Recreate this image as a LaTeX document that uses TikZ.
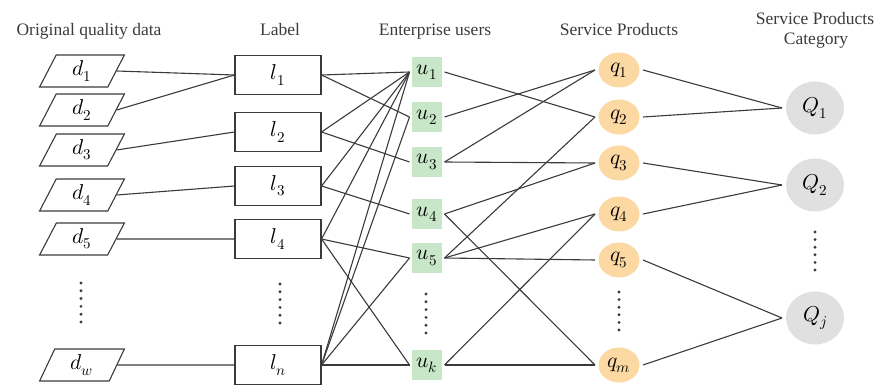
\documentclass[tikz,border=0pt]{standalone}
\usepackage{fontspec}
\usepackage{unicode-math}
\setmainfont{Liberation Serif}
\setmathfont{Latin Modern Math}
\usetikzlibrary{shapes.geometric}
\definecolor{ugreen}{RGB}{200,230,200}
\definecolor{qorange}{RGB}{252,217,162}
\definecolor{qgray}{RGB}{224,224,224}
\definecolor{linec}{RGB}{58,58,58}
\definecolor{textc}{RGB}{60,60,60}
\tikzset{
  hdr/.style={text=textc, font=\fontsize{17.5}{20}\selectfont, align=center},
  lab/.style={font=\fontsize{21.5}{24}\selectfont},
  dbox/.style={lab, draw=linec, line width=1.1pt, trapezium, trapezium left angle=73, trapezium right angle=107, trapezium stretches=true, minimum width=85pt, minimum height=32pt, inner sep=0pt},
  lbox/.style={lab, draw=linec, line width=1.1pt, rectangle, minimum width=86pt, minimum height=39pt, inner sep=0pt},
  ubox/.style={lab, fill=ugreen, rectangle, minimum width=30pt, minimum height=30pt, inner sep=0pt, outer sep=2.5pt},
  qbox/.style={lab, fill=qorange, ellipse, minimum width=41pt, minimum height=35pt, inner sep=0pt, outer sep=3.5pt},
  Qbox/.style={lab, fill=qgray, ellipse, minimum width=58pt, minimum height=53pt, inner sep=0pt, outer sep=4pt},
  conn/.style={draw=linec, line width=1.1pt},
  dotc/.style={fill=linec}
}
\begin{document}
\begin{tikzpicture}[x=1pt,y=-1pt]
\useasboundingbox (0,0) rectangle (876,387);
% headers
\node[hdr, anchor=base] (h1) at (89,36) {Original quality data};
\node[hdr, anchor=base] (h2) at (280,36) {Label};
\node[hdr, anchor=base] (h3) at (435,36) {Enterprise users};
\node[hdr, anchor=base] (h4) at (619,36) {Service Products};
\node[hdr, anchor=base] (h5) at (815,25) {Service Products};
\node[hdr, anchor=base] (h6) at (816,45) {Category};
% d
\node[dbox] (d1) at (82,71) {$d_1$};
\node[dbox] (d2) at (82,110) {$d_2$};
\node[dbox] (d3) at (82,150) {$d_3$};
\node[dbox] (d4) at (82,195) {$d_4$};
\node[dbox] (d5) at (82,239) {$d_5$};
\node[dbox] (dw) at (82,365) {$d_w$};
% l
\node[lbox] (l1) at (278,75) {$l_1$};
\node[lbox] (l2) at (278,132) {$l_2$};
\node[lbox] (l3) at (278,186) {$l_3$};
\node[lbox] (l4) at (278,239) {$l_4$};
\node[lbox] (ln) at (278,365) {$l_n$};
% u
\node[ubox] (u1) at (427,72) {$u_1$};
\node[ubox] (u2) at (427,117) {$u_2$};
\node[ubox] (u3) at (427,162) {$u_3$};
\node[ubox] (u4) at (427,214) {$u_4$};
\node[ubox] (u5) at (427,258) {$u_5$};
\node[ubox] (uk) at (427,365) {$u_k$};
% q
\node[qbox] (q1) at (619,70) {$q_1$};
\node[qbox] (q2) at (619,117) {$q_2$};
\node[qbox] (q3) at (619,163) {$q_3$};
\node[qbox] (q4) at (619,214) {$q_4$};
\node[qbox] (q5) at (619,260) {$q_5$};
\node[qbox] (qm) at (619,365) {$q_m$};
% Q
\node[Qbox] (Q1) at (815,108) {$Q_1$};
\node[Qbox] (Q2) at (815,185) {$Q_2$};
\node[Qbox] (Qj) at (815,318) {$Q_j$};
% dots
\foreach \x/\ya/\yb in {81/283/322, 280/284/323, 426/294/333, 619/292/330, 815/232/270}{
  \foreach \i in {0,...,5}{
    \fill[dotc] (\x,{\ya+\i*(\yb-\ya)/5}) circle (1.6pt);
  }
}
% d -> l
\draw[conn] (d1.east) -- (l1.west);
\draw[conn] (d2.east) -- (l1.west);
\draw[conn] (d3.east) -- (l2.west);
\draw[conn] (d4.east) -- (l3.west);
\draw[conn] (d5.east) -- (l4.west);
\draw[conn] (dw.east) -- (ln.west);
% l -> u
\draw[conn] (l1.east) -- (u1.west);
\draw[conn] (l1.east) -- (u2.west);
\draw[conn] (l2.east) -- (u1.west);
\draw[conn] (l2.east) -- (u3.west);
\draw[conn] (l3.east) -- (u1.west);
\draw[conn] (l3.east) -- (u4.west);
\draw[conn] (l4.east) -- (u1.west);
\draw[conn] (l4.east) -- (u5.west);
\draw[conn] (l4.east) -- (uk.west);
\draw[conn] (ln.east) -- (u1.west);
\draw[conn] (ln.east) -- (u2.west);
\draw[conn] (ln.east) -- (u5.west);
\draw[conn] (ln.east) -- (uk.west);
% u -> q
\draw[conn] (u1.east) -- (q2.west);
\draw[conn] (u2.east) -- (q1.west);
\draw[conn] (u3.east) -- (q1.west);
\draw[conn] (u3.east) -- (q3.west);
\draw[conn] (u4.east) -- (q3.west);
\draw[conn] (u4.east) -- (qm.west);
\draw[conn] (u5.east) -- (q2.west);
\draw[conn] (u5.east) -- (q4.west);
\draw[conn] (u5.east) -- (q5.west);
\draw[conn] (uk.east) -- (q4.west);
\draw[conn] (uk.east) -- (qm.west);
% q -> Q
\draw[conn] (q1.east) -- (Q1.west);
\draw[conn] (q2.east) -- (Q1.west);
\draw[conn] (q3.east) -- (Q2.west);
\draw[conn] (q4.east) -- (Q2.west);
\draw[conn] (q5.east) -- (Qj.west);
\draw[conn] (qm.east) -- (Qj.west);
\end{tikzpicture}
\end{document}
